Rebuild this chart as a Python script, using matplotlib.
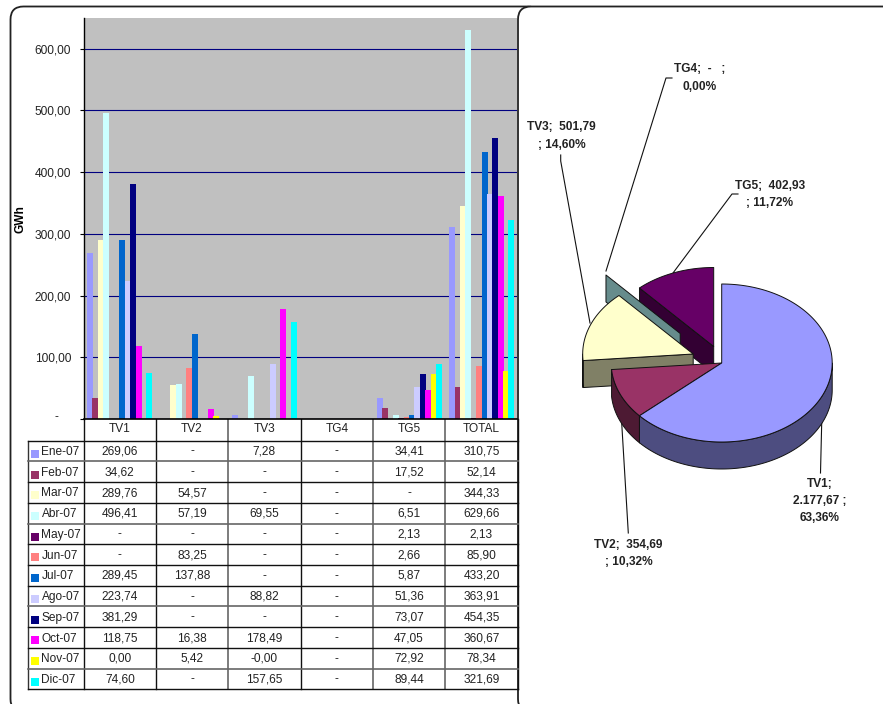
#!/usr/bin/env python
# -*- coding: utf-8 -*-

import numpy as np
import matplotlib
matplotlib.use('Agg')
import matplotlib.pyplot as plt
from matplotlib.patches import FancyBboxPatch, Polygon, Rectangle

plt.rcParams['font.family'] = ['Liberation Sans', 'DejaVu Sans']

categorias = ['TV1', 'TV2', 'TV3', 'TG4', 'TG5', 'TOTAL']
meses = ['Ene-07', 'Feb-07', 'Mar-07', 'Abr-07', 'May-07', 'Jun-07',
         'Jul-07', 'Ago-07', 'Sep-07', 'Oct-07', 'Nov-07', 'Dic-07']
ene = ['269,06', '-', '7,28', '-', '34,41', '310,75']
feb = ['34,62', '-', '-', '-', '17,52', '52,14']
mar = ['289,76', '54,57', '-', '-', '-', '344,33']
abr = ['496,41', '57,19', '69,55', '-', '6,51', '629,66']
may = ['-', '-', '-', '-', '2,13', '2,13']
jun = ['-', '83,25', '-', '-', '2,66', '85,90']
jul = ['289,45', '137,88', '-', '-', '5,87', '433,20']
ago = ['223,74', '-', '88,82', '-', '51,36', '363,91']
sep = ['381,29', '-', '-', '-', '73,07', '454,35']
oct_ = ['118,75', '16,38', '178,49', '-', '47,05', '360,67']
nov = ['0,00', '5,42', '-0,00', '-', '72,92', '78,34']
dic = ['74,60', '-', '157,65', '-', '89,44', '321,69']
filas = [ene, feb, mar, abr, may, jun, jul, ago, sep, oct_, nov, dic]
colores = ['#9999FF', '#993366', '#FFFFCC', '#CCFFFF', '#660066', '#FF8080',
           '#0066CC', '#CCCCFF', '#000080', '#FF00FF', '#FFFF00', '#00FFFF']

yticks = [0, 100, 200, 300, 400, 500, 600]
ytick_labels = ['', '100,00', '200,00', '300,00', '400,00', '500,00', '600,00']

pie_nombres = ['TV1', 'TV2', 'TV3', 'TG4', 'TG5']
pie_valores = [2177.67, 354.69, 501.79, 0.0, 402.93]

W, H = 883, 704
FS = 8.6


def numero(s):
    return 0.0 if s == '-' else float(s.replace(',', '.'))


fig = plt.figure(figsize=(W / 100, H / 100), dpi=100)

# capa en pixeles para marcos, tabla y torta
capa = fig.add_axes([0, 0, 1, 1], zorder=1)
capa.set_xlim(0, W)
capa.set_ylim(H, 0)
capa.axis('off')

capa.add_patch(FancyBboxPatch((10.5, 6.5), 530, 705.5, boxstyle='round,pad=0,rounding_size=13',
                              fc='white', ec='#222222', lw=1.3, zorder=1))
capa.add_patch(FancyBboxPatch((518, 6.5), 500, 705.5, boxstyle='round,pad=0,rounding_size=13',
                              fc='white', ec='#222222', lw=1.3, zorder=2))

# barras
px0, px1, py0, py1 = 83.5, 517.3, 419, 18
ax = fig.add_axes([px0 / W, 1 - py0 / H, (px1 - px0) / W, (py0 - py1) / H], zorder=2)
ax.set_facecolor('#C0C0C0')
ax.set_xlim(0, 5.99)
ax.set_ylim(0, 649.5)
ax.set_axisbelow(True)
ax.yaxis.grid(True, color='#000080', lw=0.8)
paso = 0.0745
ancho = 0.083
x = np.arange(len(categorias)) + 0.5
for i, fila in enumerate(filas):
    valores = [numero(v) for v in fila]
    ax.bar(x + (i - 5.5) * paso, valores, ancho, color=colores[i], lw=0)
ax.set_xticks([])
ax.set_yticks(yticks)
ax.set_yticklabels(ytick_labels, fontsize=FS, color='#222222')
ax.tick_params(axis='y', length=3, width=0.8, pad=6)
for lado in ['top', 'right']:
    ax.spines[lado].set_visible(False)
ax.spines['left'].set_linewidth(1.0)
ax.spines['bottom'].set_linewidth(1.2)
capa.text(56.5, 417, '-', ha='center', va='center', fontsize=FS, color='#222222', zorder=5)
capa.text(20, 219, 'GWh', rotation=90, ha='center', va='center', fontsize=FS, fontweight='bold', zorder=5)

# tabla
columnas_x = [83.5, 156, 228, 300.5, 373, 445, 518]
tabla_x0 = 27.5
fila_y0 = 440.7
fila_h = 20.72
gris_h = [1, 4, 8, 11]
gris_v = [2, 4, 5]
for j, xc in enumerate(columnas_x):
    gris = j in gris_v
    capa.plot([xc, xc], [419, fila_y0 + 12 * fila_h], color='#666666' if gris else '#111111',
              lw=1.2 if gris else 1.0, zorder=5)
capa.plot([tabla_x0, tabla_x0], [fila_y0, fila_y0 + 12 * fila_h], color='#333333', lw=1.0, zorder=5)
for k in range(13):
    y = fila_y0 + k * fila_h
    gris = k in gris_h
    capa.plot([tabla_x0, 518], [y, y], color='#666666' if gris else '#111111',
              lw=1.2 if gris else 1.0, zorder=5)
for j, nombre in enumerate(categorias):
    xc = (columnas_x[j] + columnas_x[j + 1]) / 2
    capa.text(xc, 429.5, nombre, ha='center', va='center', fontsize=FS, color='#222222', zorder=6)
for k, (mes, fila) in enumerate(zip(meses, filas)):
    yc = fila_y0 + (k + 0.5) * fila_h
    capa.add_patch(Rectangle((31, yc - 1.2), 8, 8, fc=colores[k], ec='none', zorder=6))
    capa.text(41.5, yc + 1, mes, ha='left', va='center', fontsize=FS, color='#222222', zorder=6)
    for j, txt in enumerate(fila):
        xc = (columnas_x[j] + columnas_x[j + 1]) / 2
        capa.text(xc, yc + 0.5, txt, ha='center', va='center', fontsize=FS, color='#222222', zorder=6)

# torta 3D
cx, cy, rx, ry, prof = 721.7, 363, 110.5, 79, 27
total = sum(pie_valores)
tapas = ['#9999FF', '#993366', '#FFFFCC', '#668C8C', '#660066']
lados = ['#4D4D80', '#4D1A33', '#808066', '#668C8C', '#330033']
desplaz = [(0, 0), (0, 0), (-28.5, -9), (-41.5, -29.5), (-8, -16.5)]
grados = np.cumsum([0] + pie_valores) / total * 360


def borde(a0, a1, ox, oy):
    t = np.radians(np.linspace(a0, a1, max(2, int(abs(a1 - a0)) + 2)))
    return np.column_stack([cx + ox + rx * np.sin(t), cy + oy - ry * np.cos(t)])


def porcion(i, z):
    a0, a1 = grados[i], grados[i + 1]
    ox, oy = desplaz[i]
    apice = np.array([cx + ox, cy + oy])
    kw = dict(ec='#111111', lw=0.7, joinstyle='round', zorder=z)
    bajo = np.array([0, prof])
    # pared radial inicial
    if a0 > 180:
        p0 = borde(a0, a0, ox, oy)[0]
        capa.add_patch(Polygon([p0, apice, apice + bajo, p0 + bajo], fc=lados[i], **kw))
    # pared exterior visible
    v0, v1 = max(a0, 90), min(a1, 270)
    if v1 > v0:
        arco = borde(v0, v1, ox, oy)
        capa.add_patch(Polygon(np.vstack([arco, arco[::-1] + bajo]), fc=lados[i], **kw))
    if a1 > a0:
        capa.add_patch(Polygon(np.vstack([apice, borde(a0, a1, ox, oy)]), fc=tapas[i], **kw))


for z, i in enumerate([4, 3, 2, 1, 0]):
    porcion(i, 10 + z)

# etiquetas de la torta
lineas = [
    ([821.7, 820.5], [423, 473]),
    ([621.7, 628.3], [423, 533]),
    ([590, 560.7, 560.7], [323, 161, 155]),
    ([606, 666, 672], [271, 78, 78]),
    ([673, 732, 738], [273, 194, 194]),
]
for lx, ly in lineas:
    capa.plot(lx, ly, color='#111111', lw=0.8, zorder=9)
etiquetas = [
    (820, 501, 'TV1;\n2.177,67 ;\n63,36%'),
    (628.7, 553.5, 'TV2;  354,69\n; 10,32%'),
    (561.7, 136, 'TV3;  501,79\n; 14,60%'),
    (700, 78, 'TG4;  -   ;\n0,00%'),
    (770, 194.5, 'TG5;  402,93\n; 11,72%'),
]
for ex, ey, txt in etiquetas:
    capa.text(ex, ey, txt, ha='center', va='center', fontsize=FS, fontweight='bold',
              color='#222222', linespacing=1.6, zorder=20)

fig.savefig('out.png', dpi=100)
